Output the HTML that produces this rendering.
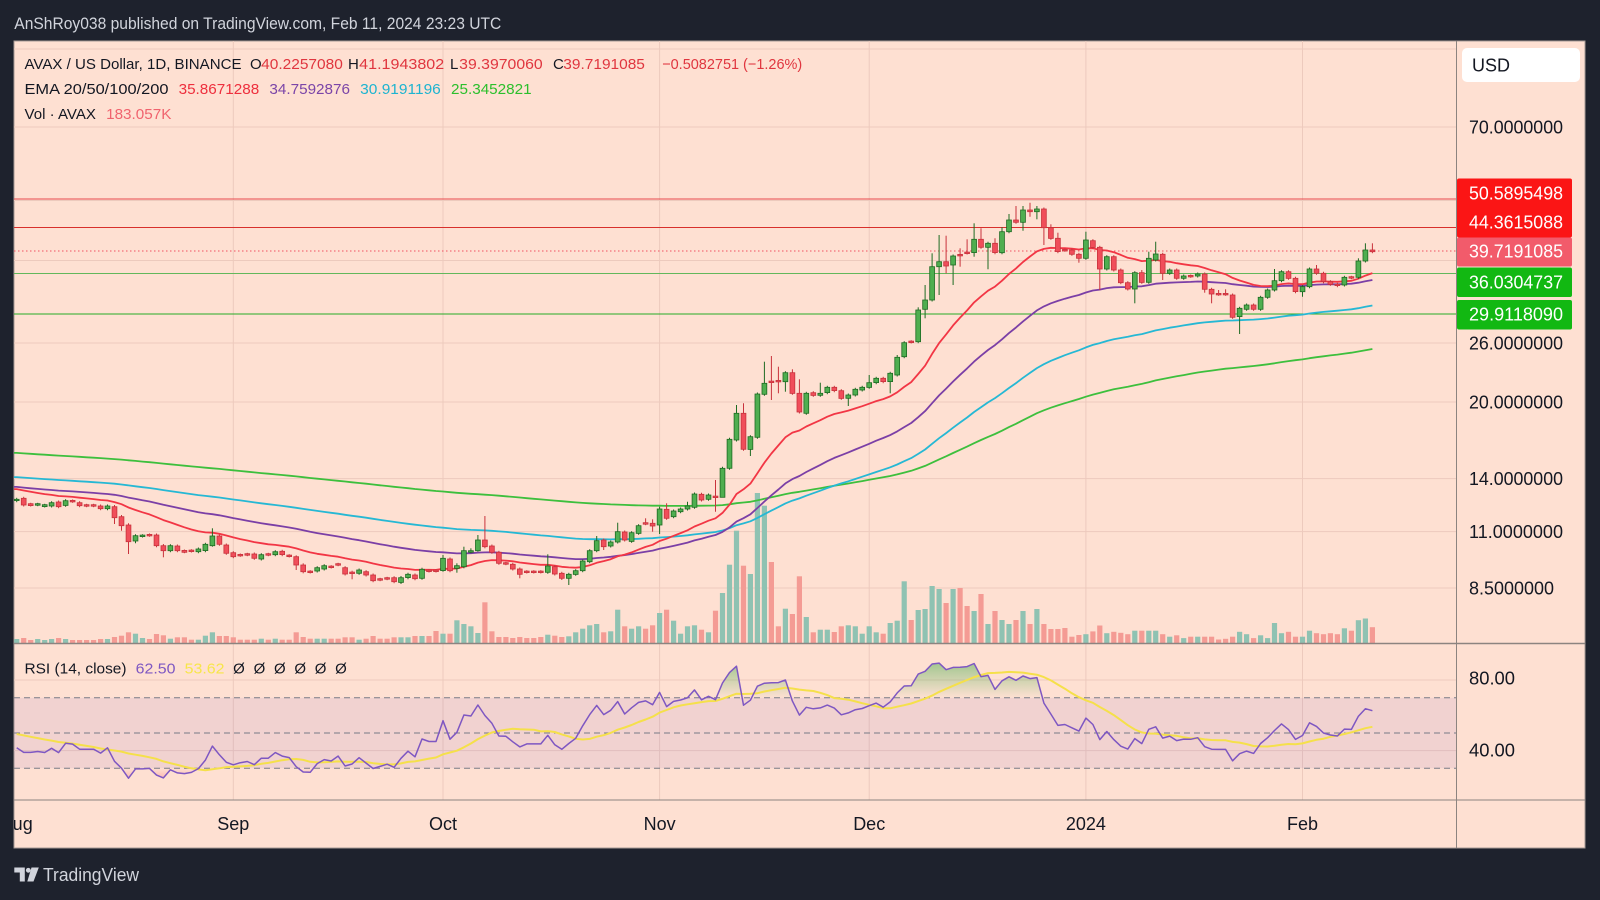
<!DOCTYPE html>
<html><head><meta charset="utf-8">
<style>
html,body{margin:0;padding:0;background:#1e222d;overflow:hidden;}
svg{display:block;font-family:"Liberation Sans",Arial,sans-serif;}
</style></head>
<body>
<svg id="s" width="1600" height="900" viewBox="0 0 1600 900" xmlns="http://www.w3.org/2000/svg">
<defs>
<clipPath id="cMain"><rect x="14" y="41" width="1442" height="602"/></clipPath>
<clipPath id="cRsi"><rect x="14" y="643" width="1442" height="157"/></clipPath>
<clipPath id="cOB"><rect x="14" y="643" width="1442" height="54.8"/></clipPath>
<clipPath id="cOS"><rect x="14" y="768.2" width="1442" height="31.8"/></clipPath>
<clipPath id="cTime"><rect x="14" y="800" width="1442" height="48"/></clipPath>
<linearGradient id="gOB" gradientUnits="userSpaceOnUse" x1="0" y1="650" x2="0" y2="698">
<stop offset="0" stop-color="#4caf50" stop-opacity="0.7"/><stop offset="1" stop-color="#4caf50" stop-opacity="0"/></linearGradient>
<linearGradient id="gOS" gradientUnits="userSpaceOnUse" x1="0" y1="768" x2="0" y2="795">
<stop offset="0" stop-color="#f23645" stop-opacity="0"/><stop offset="1" stop-color="#f23645" stop-opacity="0.6"/></linearGradient>
</defs>

<rect x="0" y="0" width="1600" height="900" fill="#1e222d"/>
<text x="14.3" y="29" font-size="17" fill="#d1d4dc" textLength="487" lengthAdjust="spacingAndGlyphs">AnShRoy038 published on TradingView.com, Feb 11, 2024 23:23 UTC</text>

<!-- chart frame -->
<rect x="14" y="41" width="1571" height="807" fill="#fee0d2" stroke="#a59a95" stroke-width="1"/>

<!-- grid -->
<g stroke="#edcabd" stroke-width="1">
<line x1="14" x2="1456" y1="49" y2="49"/>
<line x1="14" x2="1456" y1="127" y2="127"/>
<line x1="14" x2="1456" y1="200.5" y2="200.5"/>
<line x1="14" x2="1456" y1="260.5" y2="260.5"/>
<line x1="14" x2="1456" y1="343" y2="343"/>
<line x1="14" x2="1456" y1="402" y2="402"/>
<line x1="14" x2="1456" y1="478.6" y2="478.6"/>
<line x1="14" x2="1456" y1="531.6" y2="531.6"/>
<line x1="14" x2="1456" y1="588" y2="588"/>
<line x1="14" x2="1456" y1="680" y2="680"/>
<line x1="14" x2="1456" y1="750.6" y2="750.6"/>
<line x1="233.3" x2="233.3" y1="41" y2="800"/>
<line x1="443" x2="443" y1="41" y2="800"/>
<line x1="659.6" x2="659.6" y1="41" y2="800"/>
<line x1="869.2" x2="869.2" y1="41" y2="800"/>
<line x1="1085.9" x2="1085.9" y1="41" y2="800"/>
<line x1="1302.5" x2="1302.5" y1="41" y2="800"/>
</g>

<!-- horizontal levels -->
<line x1="14" x2="1456" y1="199" y2="199" stroke="#e84a4e" stroke-width="1"/>
<line x1="14" x2="1456" y1="227.5" y2="227.5" stroke="#d8302c" stroke-width="1"/>
<line x1="14" x2="1456" y1="273.5" y2="273.5" stroke="#62b85c" stroke-width="1"/>
<line x1="14" x2="1456" y1="314" y2="314" stroke="#26ab26" stroke-width="1"/>
<line x1="14" x2="1456" y1="251" y2="251" stroke="#f05060" stroke-width="1" stroke-dasharray="1.5 2.5"/>

<g clip-path="url(#cMain)">
<g id="vol"></g>
<g id="ema"></g>
<g id="cand"></g>
</g>

<!-- RSI band -->
<rect x="14" y="697.8" width="1442" height="70.4" fill="#7e57c2" fill-opacity="0.1"/>
<g stroke="#787b86" stroke-width="1" stroke-dasharray="6 4">
<line x1="14" x2="1456" y1="697.8" y2="697.8"/>
<line x1="14" x2="1456" y1="733" y2="733"/>
<line x1="14" x2="1456" y1="768.2" y2="768.2"/>
</g>
<g id="rsi" clip-path="url(#cRsi)"></g>

<!-- separators -->
<line x1="14" x2="1585" y1="643.5" y2="643.5" stroke="#8c8480" stroke-width="1.5"/>
<line x1="14" x2="1585" y1="800" y2="800" stroke="#8c8480" stroke-width="1"/>
<line x1="1456.5" x2="1456.5" y1="41" y2="848" stroke="#8c8480" stroke-width="1"/>

<!-- legend -->
<g font-size="15" fill="#131722">
<text x="24.5" y="69" textLength="217" lengthAdjust="spacingAndGlyphs">AVAX / US Dollar, 1D, BINANCE</text>
<text x="250" y="69">O</text>
<text x="261.2" y="69" fill="#e0363f" textLength="81.6" lengthAdjust="spacingAndGlyphs">40.2257080</text>
<text x="348" y="69">H</text>
<text x="359.2" y="69" fill="#e0363f" textLength="85" lengthAdjust="spacingAndGlyphs">41.1943802</text>
<text x="450" y="69">L</text>
<text x="459.2" y="69" fill="#e0363f" textLength="83.5" lengthAdjust="spacingAndGlyphs">39.3970060</text>
<text x="553" y="69">C</text>
<text x="563.3" y="69" fill="#e0363f" textLength="81.6" lengthAdjust="spacingAndGlyphs">39.7191085</text>
<text x="662.2" y="69" fill="#e0363f" textLength="140" lengthAdjust="spacingAndGlyphs">−0.5082751 (−1.26%)</text>

<text x="24.5" y="94" textLength="144" lengthAdjust="spacingAndGlyphs">EMA 20/50/100/200</text>
<text x="178.6" y="94" fill="#ee2f3d" textLength="80.6" lengthAdjust="spacingAndGlyphs">35.8671288</text>
<text x="269.4" y="94" fill="#7b45a8" textLength="80.6" lengthAdjust="spacingAndGlyphs">34.7592876</text>
<text x="360.2" y="94" fill="#1eb4d0" textLength="80.6" lengthAdjust="spacingAndGlyphs">30.9191196</text>
<text x="451" y="94" fill="#2cbf2c" textLength="80.6" lengthAdjust="spacingAndGlyphs">25.3452821</text>

<text x="24.5" y="119" textLength="71.4" lengthAdjust="spacingAndGlyphs">Vol · AVAX</text>
<text x="106.1" y="119" fill="#f0636e" textLength="65.3" lengthAdjust="spacingAndGlyphs">183.057K</text>

<text x="24.5" y="673.5" textLength="102" lengthAdjust="spacingAndGlyphs">RSI (14, close)</text>
<text x="135.7" y="673.5" fill="#7e57c2" textLength="39.8" lengthAdjust="spacingAndGlyphs">62.50</text>
<text x="184.7" y="673.5" fill="#f7e64a" textLength="39.8" lengthAdjust="spacingAndGlyphs">53.62</text>
<text x="239" y="673.5" text-anchor="middle">Ø</text>
<text x="259.4" y="673.5" text-anchor="middle">Ø</text>
<text x="279.8" y="673.5" text-anchor="middle">Ø</text>
<text x="300.2" y="673.5" text-anchor="middle">Ø</text>
<text x="320.6" y="673.5" text-anchor="middle">Ø</text>
<text x="341" y="673.5" text-anchor="middle">Ø</text>
</g>

<!-- price axis -->
<rect x="1462" y="48" width="118" height="34" rx="5" fill="#ffffff"/>
<text x="1472" y="71.5" font-size="18" fill="#131722">USD</text>
<g font-size="18" fill="#131722">
<text x="1469" y="133.5" textLength="94" lengthAdjust="spacingAndGlyphs">70.0000000</text>
<text x="1469" y="349.5" textLength="94" lengthAdjust="spacingAndGlyphs">26.0000000</text>
<text x="1469" y="408.5" textLength="94" lengthAdjust="spacingAndGlyphs">20.0000000</text>
<text x="1469" y="485" textLength="94" lengthAdjust="spacingAndGlyphs">14.0000000</text>
<text x="1469" y="538" textLength="94" lengthAdjust="spacingAndGlyphs">11.0000000</text>
<text x="1469" y="594.3" textLength="85" lengthAdjust="spacingAndGlyphs">8.5000000</text>
<text x="1469" y="684.5" textLength="46" lengthAdjust="spacingAndGlyphs">80.00</text>
<text x="1469" y="756.5" textLength="46" lengthAdjust="spacingAndGlyphs">40.00</text>
</g>
<rect x="1457" y="178.5" width="115" height="59" rx="2" fill="#fb1515"/>
<rect x="1457" y="237.5" width="115" height="29" rx="2" fill="#f25b6b"/>
<rect x="1457" y="267.5" width="115" height="29.5" rx="2" fill="#12b812"/>
<rect x="1457" y="300" width="115" height="29.5" rx="2" fill="#12b812"/>
<g font-size="18" fill="#ffffff">
<text x="1469" y="199.5" textLength="94" lengthAdjust="spacingAndGlyphs">50.5895498</text>
<text x="1469" y="228.5" textLength="94" lengthAdjust="spacingAndGlyphs">44.3615088</text>
<text x="1469" y="257.5" textLength="94" lengthAdjust="spacingAndGlyphs">39.7191085</text>
<text x="1469" y="288.5" textLength="94" lengthAdjust="spacingAndGlyphs">36.0304737</text>
<text x="1469" y="320.5" textLength="94" lengthAdjust="spacingAndGlyphs">29.9118090</text>
</g>

<!-- time axis -->
<g font-size="18" fill="#131722" text-anchor="middle" clip-path="url(#cTime)">
<text x="16.7" y="830">Aug</text>
<text x="233.3" y="830">Sep</text>
<text x="443" y="830">Oct</text>
<text x="659.6" y="830">Nov</text>
<text x="869.2" y="830">Dec</text>
<text x="1085.9" y="830">2024</text>
<text x="1302.5" y="830">Feb</text>
</g>

<!-- logo -->
<g fill="#d1d4dc">
<path d="M14.3 867.5 h10.5 v14 h-5 v-9 h-5.5 z"/>
<circle cx="28.3" cy="870.3" r="2.4"/>
<path d="M31.5 867.5 h7.3 l-5.3 14 h-6.2 z"/>
</g>
<text x="43" y="881" font-size="18" fill="#d1d4dc" textLength="96" lengthAdjust="spacingAndGlyphs">TradingView</text>
</svg>

<script>
(function(){
var NS='http://www.w3.org/2000/svg';
function el(tag,attrs,parent){var e=document.createElementNS(NS,tag);for(var k in attrs)e.setAttribute(k,attrs[k]);parent.appendChild(e);return e;}
var Z5=[[362,358],[355,375],[373,375],[374,373],[378,376],[378,368],[366,380],[376,362],[363,364],[368,377],
[376,377],[376,377],[378,386],[386,378],[380,413,375,432],[410,437,405,452],[435,485,430,522],[483,467,0,490],[468,467],[465,466],
[465,497],[497,512,492,532],[512,497],[498,512],[513,515],[512,513],[515,507],[512,493],[497,468,445,500],[468,493],
[495,520],[518,530],[525,526],[523,524],[522,535],[537,524],[523,524],[524,515],[514,524],[527,528],
[530,555,526,570],[555,575,550,580],[575,576],[573,563],[567,557],[560,561],[553,554],[563,582],[578,579,572,598],[580,570],
[575,585],[585,602],[598,599],[595,596],[593,605],[607,593,588,612],[593,583],[585,596],[595,568],[572,573],
[572,573],[572,535,525,575],[537,572],[565,557,550,578],[560,512,500,565],[515,514,505,520],[512,480,465,515],[480,500,408,505],[498,517]];
var Z6=[[667,700],[700,701],[703,717],[717,733,0,745],[725,726],[725,726],[725,726],[727,708,673,0],[710,732],[730,745,0,750],
[745,733,0,765],[733,722],[722,693],[695,662],[662,632,618,0],[630,650,0,660],[648,636],[636,605,578,0],[606,630],[634,608],
[610,587],[580,581,565,0],[580,588,568,605],[585,537,530,612],[538,565,520,0],[560,543],[545,537],[537,528,515,0],[532,492],[493,510],
[508,495],[500,501,450,545],[502,415,0,445],[415,328],[330,250,225,0],[250,358,220,0],[358,320,0,378],[322,192],[193,160,95,0],[155,156,78,210],
[153,154,110,190],[155,128,0,185],[128,190,118,0],[190,246,148,0],[250,190],[188,196],[196,190,158,0],[188,172],[172,182],[182,205],
[205,195,0,228],[195,178],[180,172],[172,158,135,0],[158,145],[145,155],[155,130,0,190],[135,82,75,0]];
var Z7=[[500,458],[455,456],[455,360,352,0],[358,330,285,385],[330,230,190,0],[230,215,135,315],[215,228,137,250],[225,198,0,285],[195,196,175,230],[188,189,148,0],
[188,148,100,200],[148,172,115,0],[172,160,0,238],[160,188,145,0],[188,125,112,0],[125,90,72,0],[90,97,48,0],[97,60,48,122],[60,65,38,80],[65,57,48,88],
[57,113,0,165],[113,145,103,0],[145,185,128,0],[180,181],[180,193],[193,205,0,218],[205,150,125,0],[152,172],[172,237,0,300],[237,200],
[200,240],[240,278],[278,297],[297,248,0,340],[248,277,240,0],[277,205,185,0],[210,192,155,0],[193,250,0,270],[250,240],[240,265],
[265,258],[258,259],[258,252],[252,298,0,308],[298,312,0,340],[312,313,300,0],[312,313,298,0],[315,382],[380,355,0,432],[358,345],
[345,358],[358,322],[322,300],[300,272,237,0],[272,245],[245,265],[265,305],[305,290,0,320],[290,237],[237,250,225,0],
[250,275],[275,283],[283,287],[285,262],[262,263],[262,213,205,0],[213,180,160,0],[180,185,160,0]];
var V=[4,5,3,4,3,4,5,4,3,3,3,3,4,4,
6,7.3,10.7,9.3,5,4,9,7.7,4.3,5.7,5.7,3.3,3.3,7.3,10.7,7,7,
5.7,3.3,3.3,3.3,4.3,3.3,4.3,3.3,3.3,10.7,6,4.3,4.3,4.3,4.3,4.3,
5.7,5.7,3.3,4.3,7,4.3,4.3,5.7,5.7,5.7,7,7,7,12,9.3,9.3,22.7,19,16.7,10,40.7,11.7,
6,6,5,6,5,5,6,8.3,7.3,6,6.7,10.7,14.3,17.7,19,10.7,11.7,33.3,16.7,14.3,16.7,14.3,17.7,30,33.3,22.3,9.3,16.7,17.7,13.3,10.7,32.3,50,78.3,112.3,77.3,69,150,137.3,81,16.7,34.3,29,66.7,26,10.7,13.3,13.3,11,16.7,17.7,16.7,9.3,16.7,10.7,9.3,20,22.3,
61.7,23,33,34,57,54,40,54,55,37,32,49,19,32,23,19,23,32,19,34,19,
14,14,15,6.3,8,8.8,11.6,17.5,9.8,11.2,10.2,8.8,12.3,12.3,12.3,12.3,8.8,6.3,7.7,4.9,6.3,6.3,6.3,6.3,3.5,4.2,6.3,11.2,8.8,4.9,7.7,4.9,20,9.8,11.2,6.3,6.3,12.3,9.8,8.8,9.8,8.8,14.7,12.3,22.8,24.5,15.8];
var rows=[];
function add(arr,base){for(var i=0;i<arr.length;i++){var a=arr[i];var o=base+a[0]/3,c=base+a[1]/3;
var h=a[2]?base+a[2]/3:Math.min(o,c)-1.5;var l=a[3]?base+a[3]/3:Math.max(o,c)+1.5;
rows.push({o:o,c:c,h:Math.min(h,o,c),l:Math.max(l,o,c)});}}
add(Z5,380);add(Z6,330);add(Z7,190);
var N=rows.length;
function X(d){return 16.7+d*6.988;}
function Y2P(y){return Math.exp(4.2485-(y-127)/218.5);}
function P2Y(p){return 127+(4.2485-Math.log(p))*218.5;}
var C=rows.map(function(r){return Y2P(r.c);});
var vol=document.getElementById('vol'),cand=document.getElementById('cand'),emaG=document.getElementById('ema'),rsiG=document.getElementById('rsi');
var i,j;
for(i=0;i<N;i++){var hv=V[i]||4;var up=rows[i].c<=rows[i].o;
el('rect',{x:(X(i)-2.6).toFixed(1),y:(643-hv).toFixed(1),width:5.2,height:hv.toFixed(1),fill:up?'#8fc2b2':'#f49b94'},vol);}
function ema(n,init,target){var k=2/(n+1),e=init,out=[];for(var q=0;q<N;q++){if(q>0)e=e+k*(C[q]-e);out.push(e);}
var corr=Math.log(target/out[N-1]);return out.map(function(v,q){return v*Math.exp(corr*q/(N-1));});}
var specs=[[200,15.75,25.3452821,'#3dbf3d'],[100,14.1,30.9191196,'#26b8d4'],[50,13.48,34.7592876,'#7b3fa6'],[20,13.35,35.8671288,'#f23645']];
for(var s=0;s<specs.length;s++){var sp=specs[s];var e=ema(sp[0],sp[1],sp[2]);
var pts=[X(-1).toFixed(1)+','+P2Y(e[0]).toFixed(1)];for(i=0;i<N;i++)pts.push(X(i).toFixed(1)+','+P2Y(e[i]).toFixed(1));
el('polyline',{points:pts.join(' '),fill:'none',stroke:sp[3],'stroke-width':1.8,'stroke-linejoin':'round'},emaG);}
for(i=0;i<N;i++){var r=rows[i];var up2=r.c<=r.o;var x=X(i);var fill=up2?'#4fae50':'#f04e5a';var st=up2?'#1d6b22':'#c8323c';
el('line',{x1:x.toFixed(1),x2:x.toFixed(1),y1:r.h.toFixed(1),y2:r.l.toFixed(1),stroke:st,'stroke-width':1},cand);
var t=Math.min(r.o,r.c),b=Math.max(r.o,r.c);if(b-t<1.2){t-=0.6;b+=0.6;}
el('rect',{x:(x-2.4).toFixed(1),y:t.toFixed(1),width:4.8,height:(b-t).toFixed(1),fill:fill,stroke:st,'stroke-width':0.8},cand);}
// RSI
var ag=0.15,al=0.21,R=[];
for(i=0;i<N;i++){if(i>0){var ch=C[i]-C[i-1];ag=(ag*13+Math.max(ch,0))/14;al=(al*13+Math.max(-ch,0))/14;}R.push(100-100/(1+ag/al));}
var buf=[];for(j=0;j<13;j++)buf.push(50);var M=[];
for(i=0;i<N;i++){buf.push(R[i]);var sm=0;for(j=buf.length-14;j<buf.length;j++)sm+=buf[j];M.push(sm/14);}
function RY(v){return 733-(v-50)*1.76;}
var rp=[],mp=[];for(i=0;i<N;i++){rp.push(X(i).toFixed(1)+','+RY(R[i]).toFixed(1));mp.push(X(i).toFixed(1)+','+RY(M[i]).toFixed(1));}
el('polygon',{points:X(0).toFixed(1)+','+RY(70)+' '+rp.join(' ')+' '+X(N-1).toFixed(1)+','+RY(70),fill:'url(#gOB)','clip-path':'url(#cOB)'},rsiG);
el('polygon',{points:X(0).toFixed(1)+','+RY(30)+' '+rp.join(' ')+' '+X(N-1).toFixed(1)+','+RY(30),fill:'url(#gOS)','clip-path':'url(#cOS)'},rsiG);
el('polyline',{points:mp.join(' '),fill:'none',stroke:'#f5e04a','stroke-width':2,'stroke-linejoin':'round'},rsiG);
el('polyline',{points:rp.join(' '),fill:'none',stroke:'#7e57c2','stroke-width':1.5,'stroke-linejoin':'round'},rsiG);
})();
</script>
</body></html>
